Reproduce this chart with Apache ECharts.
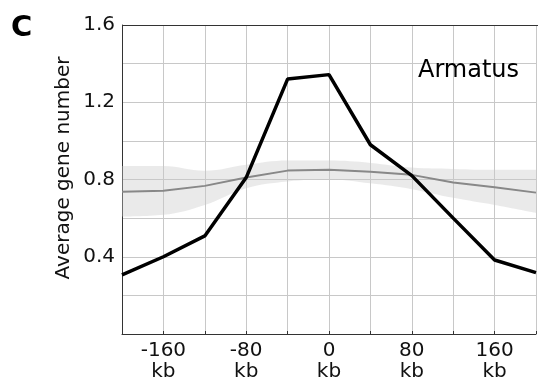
<!DOCTYPE html>
<html>
<head>
<meta charset="utf-8">
<script src="https://cdn.jsdelivr.net/npm/echarts@6/dist/echarts.min.js"></script>
<style>
  html, body {margin: 0; padding: 0; background: #fff;}
  #chart {width: 539px; height: 382px;}
</style>
</head>
<body>
<div id="chart"></div>
<script>
// distance from boundary, kb
const positions = [-200, -160, -120, -80, -40, 0, 40, 80, 120, 160, 200]
const armatus = [0.306, 0.40, 0.508, 0.81, 1.32, 1.343, 0.98, 0.82, 0.60, 0.383, 0.318]
const randomMean = [0.737, 0.742, 0.767, 0.81, 0.846, 0.85, 0.84, 0.824, 0.784, 0.76, 0.732]
const bandUpper = [0.87, 0.87, 0.845, 0.876, 0.898, 0.898, 0.886, 0.862, 0.855, 0.85, 0.85]
const bandLower = [0.608, 0.617, 0.668, 0.755, 0.79, 0.80, 0.78, 0.75, 0.705, 0.668, 0.627]
const xTickLabels = [-160, -80, 0, 80, 160]
const yTickLabels = [0.4, 0.8, 1.2, 1.6]

const myChart = echarts.init(document.getElementById('chart'))
myChart.setOption({
  animation: false,
  textStyle: {fontFamily: 'DejaVu Sans'},
  grid: {left: 122, top: 25, right: 1, bottom: 48},
  graphic: [
    {type: 'text', left: 11, top: 14, z: 100, style: {text: 'C', font: 'bold 29px DejaVu Sans', fill: '#000'}},
    {type: 'text', left: 418, top: 59, z: 100, style: {text: 'Armatus', font: '24px DejaVu Sans', fill: '#000'}},
    {
      type: 'text', x: 64, y: 168, rotation: Math.PI / 2, z: 100,
      style: {text: 'Average gene number', font: '20px DejaVu Sans', fill: '#111', align: 'center', verticalAlign: 'middle'}
    },
    {type: 'line', z: 100, shape: {x1: 122, y1: 25.5, x2: 538, y2: 25.5}, style: {stroke: '#333', lineWidth: 1}}
  ],
  xAxis: {
    type: 'category',
    boundaryGap: false,
    data: positions.map(String),
    axisLine: {lineStyle: {color: '#333', width: 1}},
    axisTick: {show: true, inside: true, length: 3, lineStyle: {color: '#333'}},
    splitLine: {show: true, lineStyle: {color: '#c8c8c8', width: 1}},
    axisLabel: {
      color: '#111',
      fontSize: 20,
      lineHeight: 21,
      margin: 6,
      interval: 0,
      formatter: (v) => xTickLabels.includes(Number(v)) ? v + '\nkb' : ''
    }
  },
  yAxis: {
    type: 'value',
    min: 0,
    max: 1.6,
    interval: 0.2,
    axisLine: {show: true, onZero: false, lineStyle: {color: '#333', width: 1}},
    axisTick: {show: false},
    splitLine: {show: true, lineStyle: {color: '#c8c8c8', width: 1}},
    axisLabel: {
      color: '#111',
      fontSize: 20,
      margin: 7,
      formatter: (v) => {
        const r = Math.round(v * 10) / 10
        return yTickLabels.includes(r) ? r.toFixed(1) : ''
      }
    }
  },
  series: [
    {
      type: 'line',
      data: bandLower,
      stack: 'band',
      smooth: 0.4,
      symbol: 'none',
      lineStyle: {width: 0, opacity: 0},
      areaStyle: {opacity: 0},
      z: 1
    },
    {
      type: 'line',
      data: bandUpper.map((u, i) => u - bandLower[i]),
      stack: 'band',
      smooth: 0.4,
      symbol: 'none',
      lineStyle: {width: 0, opacity: 0},
      areaStyle: {color: 'rgba(200,200,200,0.55)'},
      z: 1
    },
    {
      type: 'line',
      data: randomMean,
      symbol: 'none',
      lineStyle: {color: '#888', width: 2},
      z: 2
    },
    {
      type: 'line',
      data: armatus,
      symbol: 'none',
      lineStyle: {color: '#000', width: 3.5},
      z: 3
    }
  ]
})
</script>
</body>
</html>
